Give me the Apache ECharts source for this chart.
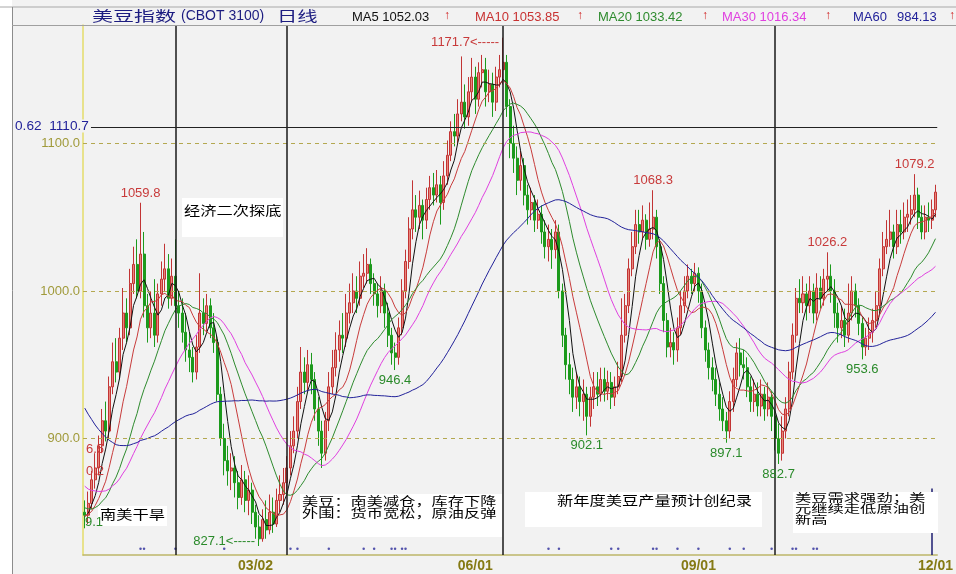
<!DOCTYPE html>
<html><head><meta charset="utf-8">
<script src="https://cdn.jsdelivr.net/npm/echarts@6/dist/echarts.min.js"></script>
<style>html,body{margin:0;padding:0;background:#f2f2f2}#c{width:956px;height:574px}</style>
</head><body><div id="c"></div>
<script>
// ---- data ----
const historyCloses = [1120,1105,1090,1100,1080,1070,1055,1060,1045,1035,
  1000,990,975,980,965,955,940,950,935,920,
  925,915,905,920,910,900,890,905,895,885,
  905,915,900,890,905,910,895,900,885,890,
  880,870,875,860,865,855,860,850,845,855,
  850,845,852,840,848,855,845,842,850,850];
const closes = [848,856,872,880,895,912,905,935,952,945,
  968,985,975,1005,1018,1000,1025,990,975,985,
  970,998,1008,1015,995,1010,990,985,972,960,
  955,945,962,985,978,990,975,965,930,900,
  885,878,880,870,860,872,858,865,850,840,
  832,845,838,850,842,858,862,870,880,895,
  905,925,945,938,950,940,920,905,890,912,
  935,948,960,970,968,985,992,1000,995,1010,
  1012,1018,1005,998,990,1000,985,970,958,955,
  975,1000,1020,1042,1055,1050,1058,1048,1062,1070,
  1065,1072,1060,1078,1092,1108,1105,1120,1128,1118,
  1135,1145,1130,1148,1150,1135,1140,1128,1145,1150,
  1155,1125,1100,1090,1075,1085,1065,1055,1060,1048,
  1052,1040,1030,1035,1028,1040,1000,970,950,940,
  928,935,925,930,915,928,935,930,940,932,
  938,928,935,942,970,990,1015,1030,1045,1040,
  1048,1035,1042,1050,1030,1005,980,962,965,960,
  975,990,1000,1010,1005,1012,1000,975,960,948,
  940,930,920,912,905,925,940,958,950,948,
  935,925,930,922,930,920,928,915,900,890,
  905,920,945,970,995,992,998,990,1000,985,
  1002,995,1008,1010,1000,985,975,980,970,985,
  1000,990,978,962,968,972,980,990,1015,1030,
  1035,1040,1030,1045,1040,1050,1052,1055,1065,1050,
  1040,1050,1048,1055,1067];
const highs = [858,864,878,890,902,920,925,942,965,968,
  975,1002,995,1015,1030,1035,1059.8,1040,998,1000,
  1008,1005,1020,1032,1025,1022,1035,1000,995,985,
  972,962,970,1012,995,998,995,985,970,935,
  910,895,890,888,878,882,878,875,870,855,
  848,852,858,862,860,866,875,880,888,905,
  915,935,962,955,960,958,945,928,912,918,
  945,960,972,980,985,998,1005,1012,1010,1020,
  1025,1029,1022,1012,1005,1010,1005,992,975,965,
  982,1008,1028,1050,1075,1065,1068,1062,1070,1078,
  1080,1082,1078,1088,1102,1115,1120,1130,1159,1140,
  1145,1158,1152,1155,1160,1158,1150,1148,1152,1160,
  1171.7,1160,1130,1112,1098,1095,1090,1072,1070,1065,
  1062,1058,1048,1045,1042,1048,1045,1005,975,958,
  948,945,942,940,935,935,945,945,948,948,
  946,945,942,952,995,998,1022,1040,1055,1055,
  1058,1052,1060,1068.3,1055,1035,1010,985,975,972,
  982,1000,1010,1018,1015,1019,1016,1005,980,965,
  955,948,938,928,918,932,948,965,968,960,
  955,942,940,938,940,935,938,932,920,910,
  915,928,952,978,1002,1008,1010,1005,1010,1005,
  1012,1010,1015,1026.2,1018,1008,992,990,988,1005,
  1010,1005,995,982,975,982,988,1000,1022,1040,
  1048,1055,1045,1055,1055,1060,1062,1065,1079.2,1070,
  1058,1058,1060,1062,1072];
const lows = [839.1,842,852,866,875,890,898,900,930,938,
  940,960,965,970,998,995,995,982,965,968,
  962,965,990,1000,988,990,985,975,965,952,
  945,938,940,958,970,972,968,958,925,895,
  875,868,865,860,852,855,850,848,842,832,
  827.1,830,832,835,836,840,850,855,862,875,
  890,900,920,930,932,930,912,895,880,885,
  905,930,942,952,958,962,978,985,985,990,
  1002,1005,998,990,982,985,975,962,950,946.4,
  950,970,995,1015,1035,1040,1042,1035,1042,1055,
  1058,1060,1045,1055,1072,1088,1098,1100,1115,1110,
  1112,1128,1120,1125,1138,1125,1128,1118,1122,1138,
  1140,1118,1090,1080,1065,1068,1058,1045,1048,1040,
  1042,1032,1022,1020,1015,1022,995,962,940,930,
  918,920,915,912,902.1,908,920,922,925,925,
  926,920,922,930,938,965,985,1010,1025,1032,
  1035,1028,1030,1035,1022,998,972,955,955,950,
  952,970,985,995,998,1000,992,968,952,940,
  932,922,912,905,897.1,900,918,935,942,940,
  928,918,918,915,915,912,915,905,892,882.7,
  885,900,915,940,965,985,985,980,985,978,
  980,988,990,1000,992,975,965,968,962,965,
  980,982,970,953.6,956,960,965,975,985,1010,
  1025,1030,1022,1025,1032,1035,1040,1045,1050,1042,
  1035,1035,1040,1042,1050];
const tickLabels = ['03/02','06/01','09/01','12/01'];
const tickDays = [49,112,176,244];
const yTicks = [900,1000,1100];
const eventDays = [26,58,120,198];
const cursorDay = 243;
const cursorTop = 866;
const newsDays = [16,17,26,40,59,61,70,80,83,88,89,91,92,133,136,151,153,163,164,170,176,185,189,197,203,204,209,210];
const newsLevel = 825.3;
const highMarks = [16,163,213,238];
const lowMarks = [89,144,184,199,223];
const peakDay = 120;
const troughDay = 50;
const fibLevel = 1110.7;
const fibRatio = '0.62';
const maPeriods = [5,10,20,30,60];
const maColors = ['#111111','#c83c3c','#2e8b2e','#e040e0','#22229a'];
const maLast = ['1052.03','1053.85','1033.42','1016.34','984.13'];

// ---- build ----
const H = historyCloses.length;
const full = historyCloses.concat(closes);
const opens = closes.map((c,i)=> i===0 ? historyCloses[H-1] : closes[i-1]);
const cats = closes.map((_,i)=>String(i));
const kdata = closes.map((c,i)=>[opens[i], c, lows[i], highs[i]]);
function ma(n){return closes.map((_,i)=>{let s=0;for(let k=0;k<n;k++)s+=full[H+i-k];return +(s/n).toFixed(2);});}

const RED='#c83a3a', GREEN='#2a8a2a', NAVY='#22229a';
const lblFont = {fontSize:13, fontFamily:'Liberation Sans, Arial, sans-serif'};

const markLineData = [];
yTicks.forEach(v=>markLineData.push({yAxis:v, lineStyle:{color:'#b4a850', type:[4,4], width:1}}));
eventDays.forEach(d=>markLineData.push({xAxis:String(d), lineStyle:{color:'#1a1a1a', type:'solid', width:1.5}}));
markLineData.push({yAxis:fibLevel, lineStyle:{color:'#222', type:'solid', width:1}});
markLineData.push([{coord:[String(cursorDay), cursorTop]},{coord:[String(cursorDay), 821]}]);
markLineData[markLineData.length-1][0].lineStyle={color:'#1c1c70', width:1.5, type:'solid'};

const markPointData = [];
highMarks.forEach(d=>markPointData.push({coord:[String(d), highs[d]], label:Object.assign({show:true, position:'top', distance:3, color:RED, formatter: highs[d].toFixed(1)}, lblFont)}));
lowMarks.forEach(d=>markPointData.push({coord:[String(d), lows[d]], label:Object.assign({show:true, position:'bottom', distance:4, color:GREEN, formatter: lows[d].toFixed(1)}, lblFont)}));
markPointData.push({coord:[String(peakDay), highs[peakDay]], label:Object.assign({show:true, position:'left', distance:4, offset:[0,5], color:RED, formatter: highs[peakDay].toFixed(1)+'<-----'}, lblFont)});
markPointData.push({coord:[String(troughDay), lows[troughDay]], label:Object.assign({show:true, position:'left', distance:4, offset:[0,-5], color:GREEN, formatter: lows[troughDay].toFixed(1)+'<-----'}, lblFont)});

const series = [{
  type:'candlestick', data:kdata, barWidth:'72%',
  itemStyle:{color:'#e8877c', color0:'#1c9a1c', borderColor:'#c23434', borderColor0:'#1c9a1c', borderWidth:1},
  markLine:{silent:true, symbol:['none','none'], label:{show:false}, data:markLineData, animation:false},
  markPoint:{symbol:'circle', symbolSize:0, data:markPointData, animation:false}
}];
maPeriods.forEach((n,k)=>series.push({type:'line', data:ma(n), showSymbol:false, symbol:'none', smooth:false,
  lineStyle:{color:maColors[k], width:1}, z:3}));
series.push({type:'scatter', data:newsDays.map(d=>[String(d), newsLevel]), symbolSize:2.5, itemStyle:{color:'#2a2a9a'}, z:4});

const CJK = '"Noto Sans CJK SC", sans-serif';
const LAT = '"Liberation Sans", Arial, sans-serif';
function txt(text,x,y,opt){opt=opt||{};const st={text:text, fill:opt.color||'#000', font:(opt.weight||'normal')+' '+(opt.size||13)+'px '+(opt.family||LAT), verticalAlign:'middle', align:'left'};
  if(opt.bg){st.backgroundColor=opt.bg;st.padding=[0,2,0,0];}
  return {type:'text', x:x, y:y, scaleX:opt.sx||1, z:100, style:st};}
function box(x,y,w,h){return {type:'rect', z:90, shape:{x:x,y:y,width:w,height:h}, style:{fill:'#ffffff'}};}

const graphics = [
  {type:'rect', z:80, shape:{x:0,y:0,width:12,height:574}, style:{fill:'#ffffff'}},
  {type:'line', z:81, shape:{x1:0,y1:7,x2:956,y2:7}, style:{stroke:'#a8a8a8', lineWidth:1}},
  {type:'line', z:81, shape:{x1:12.5,y1:7,x2:12.5,y2:574}, style:{stroke:'#8c8c8c', lineWidth:1}},
  {type:'line', z:81, shape:{x1:12,y1:25.5,x2:956,y2:25.5}, style:{stroke:'#a0a0a0', lineWidth:1}},
  txt('美豆指数',92,16,{family:CJK,size:14,sx:1.5,color:'#1c1c80'}),
  txt('(CBOT 3100)',181,16,{size:14,color:'#1c1c80'}),
  txt('日线',277,16,{family:CJK,size:14,sx:1.45,color:'#1c1c80'}),
  txt('MA5 '+maLast[0],352,17,{color:'#111'}), txt('↑',444,16,{color:'#d02020',size:12,weight:'bold'}),
  txt('MA10 '+maLast[1],475,17,{color:'#c83232'}), txt('↑',577,16,{color:'#d02020',size:12,weight:'bold'}),
  txt('MA20 '+maLast[2],598,17,{color:'#2e8b2e'}), txt('↑',702,16,{color:'#d02020',size:12,weight:'bold'}),
  txt('MA30 '+maLast[3],722,17,{color:'#e040e0'}), txt('↑',825,16,{color:'#d02020',size:12,weight:'bold'}),
  txt('MA60',853,17,{color:NAVY}), txt(maLast[4],897,17,{color:NAVY}), txt('↑',949,16,{color:'#d02020',size:12,weight:'bold'}),
  txt(fibRatio+'  '+fibLevel.toFixed(1),15,126,{color:NAVY, sx:1.05, bg:'#f2f2f2'}),
  txt('6.5',86,449,{color:RED}), txt('0.2',86,471,{color:RED}), txt('9.1',85,522,{color:GREEN}),
  box(182,198,101,39), txt('经济二次探底',184,210,{family:CJK,size:13,sx:1.25}),
  box(98,506,69,20), txt('南美干旱',100,514,{family:CJK,size:13,sx:1.25}),
  box(300,494,202,43), txt('美豆：南美减仓，库存下降',302,501,{family:CJK,size:12,sx:1.35}),
  txt('外围：货币宽松，原油反弹',302,513,{family:CJK,size:12,sx:1.35}),
  box(525,492,237,35), txt('新年度美豆产量预计创纪录',557,500,{family:CJK,size:13,sx:1.25}),
  box(793,492,145,41), txt('美豆需求强劲；美',795,498,{family:CJK,size:11,sx:1.48}),
  txt('元继续走低原油创',795,509,{family:CJK,size:11,sx:1.48}),
  txt('新高',795,520,{family:CJK,size:11,sx:1.48})
];

const chart = echarts.init(document.getElementById('c'));
chart.setOption({
  animation:false,
  backgroundColor:'#f2f2f2',
  grid:{left:83, right:12, top:25, bottom:19},
  xAxis:{type:'category', data:cats, boundaryGap:true,
    axisLine:{lineStyle:{color:'#bdb66a', width:1.5}}, axisTick:{show:false}, splitLine:{show:false},
    axisLabel:{interval:(idx)=>tickDays.indexOf(idx)>=0, formatter:(v,idx)=>{const k=tickDays.indexOf(+v);return k>=0?tickLabels[k]:'';},
      color:'#857a14', fontWeight:'bold', fontSize:14, fontFamily:LAT, margin:4}},
  yAxis:{type:'value', min:821, max:1180.3, scale:true,
    axisLine:{show:true, lineStyle:{color:'#e4dc6a', width:1.5}}, axisTick:{show:false}, splitLine:{show:false},
    axisLabel:{customValues:yTicks, formatter:(v)=>Number(v).toFixed(1), color:'#a09a3a', fontSize:13, fontFamily:LAT, margin:3}},
  series:series,
  graphic:graphics
});
</script></body></html>
